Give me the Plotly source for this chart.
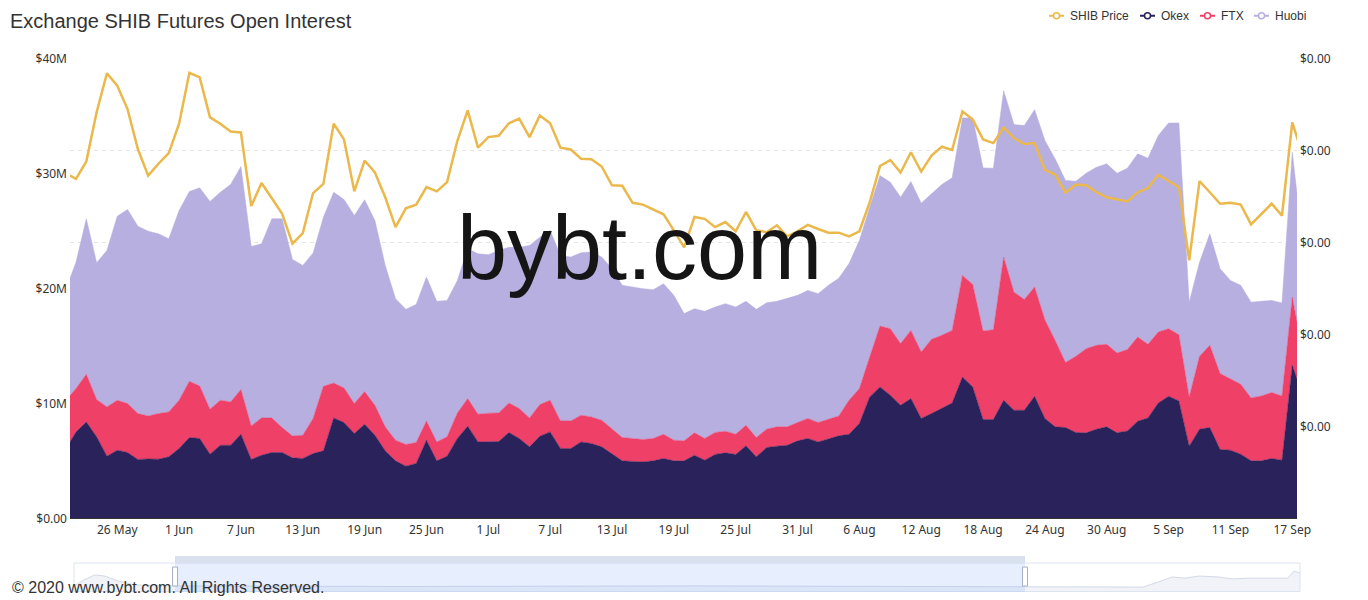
"""Exchange SHIB futures open interest (stacked by exchange) with SHIB price"""
import pandas as pd
import plotly.graph_objects as go

# one point per day, 21 May - 18 Sep 2021; the view clips the first and last day
dates = pd.date_range("2021-05-21", "2021-09-18", freq="D")

# open interest per exchange, $M
okex_oi = [
    6.03, 7.53, 8.40, 7.10, 5.42, 5.94, 5.74, 5.13, 5.18, 5.16,
    5.36, 6.09, 7.04, 6.96, 5.59, 6.37, 6.37, 7.33, 5.13, 5.50,
    5.74, 5.74, 5.27, 5.22, 5.65, 5.88, 8.75, 8.35, 7.39, 8.20,
    7.24, 5.88, 5.01, 4.55, 4.78, 6.81, 5.01, 5.42, 6.96, 8.03,
    6.66, 6.68, 6.69, 7.48, 6.96, 6.23, 7.16, 7.53, 6.09, 6.09,
    6.66, 6.52, 6.23, 5.62, 5.01, 4.96, 4.92, 5.01, 5.22, 5.01,
    5.01, 5.50, 5.07, 5.57, 5.71, 5.57, 6.32, 5.36, 6.17, 6.29,
    6.37, 6.75, 6.96, 6.66, 6.90, 7.19, 7.33, 8.26, 10.58, 11.45,
    10.72, 9.85, 10.43, 8.70, 9.13, 9.57, 10.05, 12.31, 11.45, 8.61,
    8.61, 10.29, 9.42, 9.42, 10.63, 8.70, 7.97, 7.91, 7.48, 7.45,
    7.77, 7.97, 7.45, 7.62, 8.46, 8.75, 10.05, 10.63, 10.23, 6.29,
    7.77, 7.91, 6.00, 5.94, 5.59, 5.01, 5.01, 5.22, 5.07, 13.33,
    10.78,
]
ftx_oi = [
    4.26, 3.77, 4.15, 3.25, 4.29, 4.35, 4.26, 4.00, 3.74, 3.97,
    3.91, 4.20, 4.90, 4.57, 3.91, 3.92, 3.77, 3.89, 2.92, 3.25,
    3.01, 2.17, 1.91, 2.02, 3.05, 5.62, 3.04, 3.01, 2.61, 2.84,
    2.61, 2.09, 1.80, 1.88, 1.83, 1.68, 1.65, 1.68, 2.22, 2.40,
    2.41, 2.48, 2.49, 2.57, 2.61, 2.52, 2.75, 2.76, 2.40, 2.40,
    2.32, 2.31, 2.32, 2.15, 2.03, 2.00, 1.95, 1.95, 2.11, 1.80,
    1.74, 1.95, 1.89, 1.91, 1.88, 1.76, 1.79, 1.68, 1.60, 1.68,
    1.60, 1.60, 1.74, 1.69, 1.71, 1.73, 2.96, 3.04, 3.47, 5.30,
    5.80, 5.37, 5.94, 5.79, 6.46, 6.37, 6.32, 8.85, 8.92, 7.70,
    7.82, 12.46, 10.28, 9.65, 9.51, 8.60, 7.53, 5.66, 6.63, 7.33,
    7.30, 7.19, 6.95, 7.08, 7.33, 6.41, 6.18, 5.89, 5.77, 4.29,
    6.34, 7.16, 6.61, 6.23, 6.09, 5.48, 5.65, 5.74, 5.59, 5.94,
    3.77,
]
huobi_oi = [
    9.61, 11.01, 13.54, 11.91, 13.62, 16.02, 16.90, 16.31, 16.09, 15.65,
    15.08, 16.52, 16.52, 17.25, 18.09, 18.11, 18.93, 19.41, 15.63, 15.16,
    17.34, 18.18, 15.37, 14.79, 14.40, 14.73, 16.61, 16.41, 16.37, 16.70,
    16.09, 14.06, 12.32, 11.77, 12.02, 12.52, 12.24, 11.88, 11.54, 13.05,
    13.97, 13.80, 14.15, 13.55, 14.03, 15.02, 14.58, 14.78, 14.41, 14.26,
    14.15, 14.36, 14.20, 13.97, 13.25, 13.18, 13.13, 12.95, 13.10, 12.61,
    11.08, 10.81, 11.07, 10.92, 11.11, 11.07, 10.79, 11.16, 11.01, 10.93,
    11.16, 11.07, 11.15, 11.22, 11.69, 11.98, 11.91, 12.90, 13.05, 13.10,
    12.75, 12.75, 12.96, 12.96, 12.67, 13.13, 13.28, 13.71, 14.50, 14.21,
    14.06, 14.49, 14.59, 15.13, 15.45, 15.60, 15.80, 15.85, 15.25, 15.27,
    15.50, 15.71, 15.65, 15.79, 15.95, 16.20, 17.10, 17.91, 18.43, 8.25,
    8.19, 9.71, 9.13, 8.55, 8.61, 8.34, 8.24, 8.02, 8.09, 12.61,
    9.45,
]
# SHIB price in millionths of a dollar
shib_price = [
    7.51, 7.39, 7.77, 8.84, 9.69, 9.42, 8.91, 8.04, 7.46, 7.72,
    7.95, 8.59, 9.70, 9.60, 8.73, 8.59, 8.42, 8.40, 6.80, 7.30,
    6.97, 6.63, 5.98, 6.21, 7.08, 7.28, 8.59, 8.25, 7.12, 7.79,
    7.53, 6.99, 6.34, 6.75, 6.83, 7.21, 7.12, 7.32, 8.22, 8.88,
    8.07, 8.30, 8.33, 8.60, 8.70, 8.30, 8.77, 8.60, 8.07, 8.03,
    7.83, 7.82, 7.66, 7.25, 7.24, 6.87, 6.83, 6.72, 6.62, 6.27,
    5.90, 6.56, 6.52, 6.34, 6.45, 6.25, 6.67, 6.27, 6.23, 6.38,
    6.14, 6.25, 6.39, 6.30, 6.22, 6.22, 6.14, 6.25, 6.88, 7.67,
    7.80, 7.53, 7.97, 7.55, 7.90, 8.09, 8.02, 8.86, 8.68, 8.25,
    8.17, 8.51, 8.28, 8.15, 8.17, 7.59, 7.48, 7.09, 7.27, 7.25,
    7.10, 6.99, 6.94, 6.90, 7.10, 7.19, 7.48, 7.35, 7.21, 5.62,
    7.34, 7.10, 6.85, 6.87, 6.83, 6.40, 6.63, 6.85, 6.59, 8.62,
    7.91,
]

tick_dates = [
    "2021-05-26", "2021-06-01", "2021-06-07", "2021-06-13", "2021-06-19",
    "2021-06-25", "2021-07-01", "2021-07-07", "2021-07-13", "2021-07-19",
    "2021-07-25", "2021-07-31", "2021-08-06", "2021-08-12", "2021-08-18",
    "2021-08-24", "2021-08-30", "2021-09-05", "2021-09-11", "2021-09-17",
]
tick_labels = [
    "26 May", "1 Jun", "7 Jun", "13 Jun", "19 Jun", "25 Jun", "1 Jul", "7 Jul",
    "13 Jul", "19 Jul", "25 Jul", "31 Jul", "6 Aug", "12 Aug", "18 Aug",
    "24 Aug", "30 Aug", "5 Sep", "11 Sep", "17 Sep",
]
oi_ticks = [0, 10, 20, 30, 40]
oi_labels = ["$0.00", "$10M", "$20M", "$30M", "$40M"]
price_ticks = [2, 4, 6, 8, 10]

# data shadow of the zoom slider (position 0-1 across the slider, level 0-1)
slider_pos = [0.0, 0.008, 0.017, 0.025, 0.036, 0.05, 0.082, 0.266, 0.51, 0.755,
              0.872, 0.884, 0.896, 0.906, 0.918, 0.933, 0.945, 0.959, 0.99, 0.995, 1.0]
slider_level = [0.21, 0.41, 0.59, 0.55, 0.38, 0.24, 0.21, 0.19, 0.21, 0.17,
                0.17, 0.34, 0.52, 0.48, 0.55, 0.52, 0.45, 0.48, 0.48, 0.72, 0.66]

GOLD = "#ebb84b"
NAVY = "#2a225b"
RED = "#ef4168"
LAVENDER = "#b6afe0"
TEXT = "#333333"
SANS = "Liberation Sans, Arial, sans-serif"

legend_names = ["SHIB Price", "Okex", "FTX", "Huobi"]
legend_colors = [GOLD, NAVY, RED, LAVENDER]
legend_icon_x = [1049, 1140, 1200, 1254]  # left end of each legend icon, screen px

# The page keeps its 8px body margin and the shot comes out squeezed a little
# vertically (608 -> 600), so screen positions are mapped back to figure pixels.
OFF = 8
SQUEEZE = 600 / 608
W, H = 1368 - OFF, 600


def fy(y):
    """screen row -> figure pixel row"""
    return y / SQUEEZE - OFF


L, R = 70 - OFF, 68
T = fy(58.3)
B = H - fy(592)


def px(x):
    """screen column -> paper x"""
    return (x - OFF - L) / (W - L - R)


def py(y):
    """screen row -> paper y"""
    return (H - B - fy(y)) / (H - T - B)


fig = go.Figure()

fig.add_trace(
    go.Scatter(
        x=slider_pos, y=slider_level, xaxis="x3", yaxis="y3", mode="lines",
        fill="tozeroy", fillcolor="#f1f3f8", line=dict(color="#d3d9e6", width=1),
        hoverinfo="skip",
    )
)

for name, values, color in [("Okex", okex_oi, NAVY), ("FTX", ftx_oi, RED), ("Huobi", huobi_oi, LAVENDER)]:
    fig.add_trace(
        go.Scatter(
            x=dates, y=values, name=name, stackgroup="oi", mode="lines",
            line=dict(color=color, width=0.5), fillcolor=color,
        )
    )

fig.add_trace(
    go.Scatter(
        x=dates, y=shib_price, name="SHIB Price", yaxis="y2", mode="lines",
        line=dict(color=GOLD, width=2.5),
    )
)

x_start = pd.Timestamp("2021-05-22") - pd.Timedelta(hours=14)
x_end = pd.Timestamp("2021-09-17") + pd.Timedelta(hours=11)

fig.update_layout(
    width=W,
    height=H,
    margin=dict(l=L, r=R, t=T, b=B),
    paper_bgcolor="white",
    plot_bgcolor="white",
    showlegend=False,
    font=dict(family="Noto Sans, sans-serif", size=12, color=TEXT),
    title=dict(
        text="Exchange SHIB Futures Open Interest",
        xref="container", yref="container", x=(10 - OFF) / W, xanchor="left",
        y=1 - 12.5 / H, yanchor="middle",
        font=dict(family=SANS, size=20, color=TEXT),
    ),
    xaxis=dict(
        type="date", domain=[0, px(1297)], range=[x_start, x_end], anchor="y",
        tickvals=tick_dates, ticktext=tick_labels, ticks="",
        showgrid=False, zeroline=False, showline=True, linecolor=TEXT, linewidth=1,
        layer="above traces",
    ),
    yaxis=dict(
        domain=[py(518.3), 1], range=[0, 40], tickvals=oi_ticks, ticktext=oi_labels,
        showgrid=False, zeroline=False, ticks="", ticklabelstandoff=2,
    ),
    yaxis2=dict(
        overlaying="y", side="right", anchor="x", range=[0, 10],
        tickvals=price_ticks, ticktext=["$0.00"] * len(price_ticks),
        showgrid=True, gridcolor="rgba(0,0,0,0.1)", griddash="4px,4px", gridwidth=1,
        zeroline=False, ticks="", ticklabelstandoff=2, layer="above traces",
    ),
    xaxis3=dict(domain=[px(74), px(1300)], anchor="y3", range=[0, 1], visible=False),
    yaxis3=dict(domain=[py(592), py(563)], anchor="x3", range=[0, 1], visible=False),
)

# legend drawn like the original: short line with a hollow dot, then the name
LEG_Y = 15
for name, color, lx in zip(legend_names, legend_colors, legend_icon_x):
    fig.add_shape(type="line", xref="paper", yref="paper", x0=px(lx), x1=px(lx + 15),
                  y0=py(LEG_Y), y1=py(LEG_Y), line=dict(color=color, width=2))
    fig.add_shape(type="circle", xref="paper", yref="paper", x0=px(lx + 4.5), x1=px(lx + 10.5),
                  y0=py(LEG_Y + 3), y1=py(LEG_Y - 3), line=dict(color=color, width=1.5), fillcolor="white")
    fig.add_annotation(
        text=name, xref="paper", yref="paper", x=px(lx + 19), y=py(LEG_Y),
        xanchor="left", yanchor="middle", showarrow=False,
        font=dict(family=SANS, size=12, color=TEXT),
    )

# zoom slider decoration
fig.add_shape(type="rect", xref="paper", yref="paper", x0=px(74), x1=px(1300), y0=py(591.5), y1=py(563),
              line=dict(color="#dde3ef", width=1), fillcolor="rgba(0,0,0,0)", layer="above")
fig.add_shape(type="rect", xref="paper", yref="paper", x0=px(175), x1=px(1025), y0=py(592), y1=py(563),
              line=dict(width=0), fillcolor="rgba(135,175,250,0.2)", layer="above")
fig.add_shape(type="rect", xref="paper", yref="paper", x0=px(175), x1=px(1025), y0=py(563), y1=py(556),
              line=dict(width=0), fillcolor="#d9e0ee", layer="above")
for hx in (175, 1025):
    fig.add_shape(type="rect", xref="paper", yref="paper", x0=px(hx - 2.5), x1=px(hx + 2.5),
                  y0=py(586), y1=py(567), line=dict(color="#a5b0c4", width=1), fillcolor="white", layer="above")

fig.add_annotation(
    text="bybt.com", xref="paper", yref="paper", x=px(639), y=py(248),
    xanchor="center", yanchor="middle", showarrow=False,
    font=dict(family=SANS, size=90, color="#151515"),
)
fig.add_annotation(
    text="© 2020 www.bybt.com. All Rights Reserved.", xref="paper", yref="paper",
    x=px(10), y=py(587), xanchor="left", yanchor="middle", showarrow=False,
    font=dict(family=SANS, size=16, color=TEXT),
)

fig.write_html("out.html")
